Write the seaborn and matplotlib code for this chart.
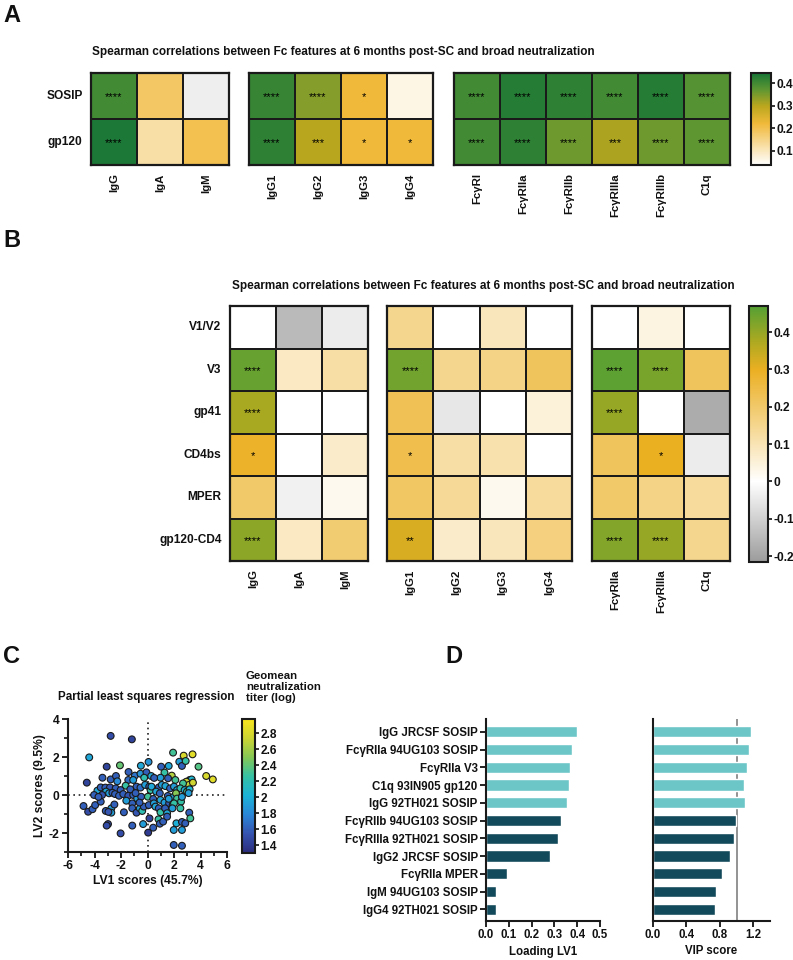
import numpy as np
import pandas as pd
import matplotlib
matplotlib.use('Agg')
import matplotlib.pyplot as plt
import seaborn as sns
from matplotlib.colors import LinearSegmentedColormap, Normalize
from matplotlib.cm import ScalarMappable
from matplotlib.ticker import MultipleLocator

# ---- panel A data (Spearman r, Fc feature vs broad neutralization) ----
a_rows = ['SOSIP', 'gp120']
a_iso = ['IgG', 'IgA', 'IgM']
a_sub = ['IgG1', 'IgG2', 'IgG3', 'IgG4']
a_fcr = ['FcγRI', 'FcγRIIa', 'FcγRIIb', 'FcγRIIIa', 'FcγRIIIb', 'C1q']
a_iso_r = [[0.40, 0.18, -0.02],
           [0.44, 0.12, 0.20]]
a_sub_r = [[0.41, 0.34, 0.22, 0.06],
           [0.42, 0.30, 0.22, 0.22]]
a_fcr_r = [[0.40, 0.43, 0.42, 0.40, 0.43, 0.38],
           [0.40, 0.42, 0.36, 0.31, 0.36, 0.37]]
a_iso_p = [['****', '', ''], ['****', '', '']]
a_sub_p = [['****', '****', '*', ''], ['****', '***', '*', '*']]
a_fcr_p = [['****'] * 6, ['****', '****', '****', '***', '****', '****']]

# ---- panel B data (epitope-specific) ----
b_rows = ['V1/V2', 'V3', 'gp41', 'CD4bs', 'MPER', 'gp120-CD4']
b_iso = ['IgG', 'IgA', 'IgM']
b_sub = ['IgG1', 'IgG2', 'IgG3', 'IgG4']
b_fcr = ['FcγRIIa', 'FcγRIIIa', 'C1q']
b_iso_r = [[0.00, -0.15, -0.04],
           [0.45, 0.08, 0.12],
           [0.38, 0.00, 0.00],
           [0.29, 0.00, 0.07],
           [0.20, -0.03, 0.02],
           [0.41, 0.08, 0.19]]
b_sub_r = [[0.15, 0.00, 0.09, 0.00],
           [0.44, 0.15, 0.16, 0.22],
           [0.23, -0.05, 0.00, 0.05],
           [0.24, 0.12, 0.11, 0.00],
           [0.21, 0.14, 0.02, 0.13],
           [0.32, 0.07, 0.09, 0.17]]
b_fcr_r = [[0.00, 0.04, 0.00],
           [0.46, 0.43, 0.22],
           [0.40, 0.00, -0.18],
           [0.22, 0.30, -0.04],
           [0.20, 0.16, 0.13],
           [0.42, 0.40, 0.15]]
b_iso_p = [['', '', ''], ['****', '', ''], ['****', '', ''],
           ['*', '', ''], ['', '', ''], ['****', '', '']]
b_sub_p = [['', '', '', ''], ['****', '', '', ''], ['', '', '', ''],
           ['*', '', '', ''], ['', '', '', ''], ['**', '', '', '']]
b_fcr_p = [['', '', ''], ['****', '****', ''], ['****', '', ''],
           ['', '*', ''], ['', '', ''], ['****', '****', '']]

# ---- panel C data (PLS scores, coloured by geomean titer) ----
lv1 = [-2.78, -1.18, -4.40, 1.93, 2.73, 3.40, 2.40, 2.60, 2.88, -3.08,
       -2.08, -0.50, 0.08, 1.03, 1.60, 3.85, -4.58, -3.40, -2.78, -2.38,
       -1.43, -0.95, -0.53, -0.08, -1.45, -1.08, -0.25, 0.28, 1.28, 1.83,
       2.10, 4.43, 4.93, 1.55, 0.98, 3.18, 3.33, 2.93, 3.13, 3.43,
       2.68, -2.28, -1.65, -3.78, -3.53, -3.18, -2.83, -2.40, -2.03, -3.13,
       -2.90, -2.65, -2.45, -4.03, -3.43, -2.15, -1.83, -1.45, -1.08, -0.83,
       -0.53, -0.18, 0.13, 0.23, 0.30, 0.85, 1.08, 1.35, 1.70, 2.00,
       2.23, 2.48, 2.80, 2.98, 3.18, 0.65, 0.93, 1.53, 1.98, 2.15,
       2.23, 2.53, -1.15, -0.78, -0.48, 0.03, 0.43, 0.98, 1.28, 1.63,
       1.90, 2.00, -4.83, -4.48, -4.15, -3.95, -3.53, -3.15, -2.73, -2.73,
       -2.95, -1.78, -1.15, -0.83, -0.58, -0.40, -0.28, 0.10, 0.48, 0.60,
       0.85, 0.98, 1.33, 1.48, 1.88, 2.48, 3.15, 3.23, -2.98, -3.08,
       -1.15, -0.33, 0.15, 0.43, 0.83, 0.93, 1.18, 1.48, 2.18, 2.60,
       2.85, -2.03, 0.05, 1.98, 2.60, 1.98, 2.60, -3.70, -2.50, -1.60,
       -1.30, -0.90, -0.60, 0.50, 1.60, 2.60, 3.10]
lv2 = [3.11, 2.93, 1.98, 2.23, 2.07, 2.14, 1.75, 1.53, 1.79, 1.49,
       1.56, 1.54, 1.74, 1.49, 1.53, 1.49, 0.65, 0.91, 0.82, 1.00,
       1.21, 1.02, 1.12, 1.19, 0.79, 0.79, 0.91, 1.00, 1.18, 1.02,
       0.79, 1.00, 0.82, 0.88, 0.91, 0.79, 0.82, 0.70, 0.53, 0.65,
       0.61, 0.72, 0.49, 0.23, 0.40, 0.39, 0.40, 0.35, 0.26, 0.18,
       0.09, 0.12, 0.05, 0.00, 0.00, -0.04, 0.05, -0.04, 0.00, 0.44,
       0.39, 0.53, 0.44, 0.26, 0.44, 0.40, 0.53, 0.47, 0.35, 0.44,
       0.26, 0.35, 0.26, 0.18, 0.30, 0.18, 0.09, -0.05, -0.09, 0.09,
       -0.19, -0.35, -0.44, -0.18, -0.09, -0.09, -0.21, -0.26, -0.40, -0.44,
       -0.53, -0.44, -0.58, -0.88, -0.75, -0.53, -0.35, -0.84, -0.70, -0.93,
       -0.89, -0.91, -0.70, -0.93, -0.70, -0.84, -0.61, -0.53, -0.44, -0.61,
       -0.70, -0.91, -0.70, -0.96, -0.70, -0.70, -0.93, -1.23, -1.53, -1.61,
       -1.61, -1.53, -1.23, -1.72, -1.28, -1.51, -1.40, -1.14, -1.49, -1.42,
       -1.49, -2.02, -1.98, -1.84, -1.84, -2.63, -2.67, -0.10, -0.50, -0.30,
       0.30, 0.10, -0.40, 0.90, -0.20, -0.10, 0.10]
titer = [1.50, 1.45, 1.95, 2.30, 2.80, 2.85, 1.90, 1.60, 2.25, 1.45,
         2.40, 1.95, 1.85, 1.60, 1.95, 2.35, 1.45, 1.60, 1.60, 1.60,
         1.60, 1.70, 1.85, 1.60, 1.65, 1.90, 2.20, 1.95, 2.25, 2.65,
         2.30, 2.80, 2.85, 1.60, 1.90, 2.00, 2.05, 2.75, 2.70, 2.75,
         2.30, 1.80, 2.25, 1.95, 1.60, 1.60, 1.55, 1.60, 1.60, 1.95,
         1.90, 1.60, 1.60, 1.60, 1.55, 1.60, 1.60, 1.55, 1.60, 1.60,
         1.65, 1.90, 1.60, 2.25, 1.95, 1.60, 1.90, 1.95, 1.60, 1.90,
         1.95, 2.20, 2.00, 2.30, 2.05, 1.95, 1.60, 1.60, 1.90, 2.50,
         2.30, 2.25, 1.60, 1.90, 1.60, 2.30, 1.60, 1.95, 1.90, 1.60,
         1.95, 2.25, 1.60, 1.50, 1.60, 1.60, 1.60, 1.60, 1.90, 1.90,
         1.55, 1.60, 1.60, 1.55, 1.90, 2.20, 1.60, 1.60, 1.90, 1.95,
         1.60, 2.25, 1.60, 1.95, 1.90, 2.25, 1.60, 2.30, 1.50, 1.50,
         1.60, 1.90, 1.45, 1.60, 2.25, 1.60, 1.60, 1.60, 2.00, 1.60,
         1.60, 1.50, 1.40, 1.90, 1.90, 1.60, 1.60, 1.60, 1.60, 1.90,
         1.60, 1.60, 1.60, 1.60, 1.90, 1.90, 1.90]

# ---- panel D data ----
d_features = ['IgG JRCSF SOSIP', 'FcγRIIa 94UG103 SOSIP', 'FcγRIIa V3',
              'C1q 93IN905 gp120', 'IgG 92TH021 SOSIP', 'FcγRIIb 94UG103 SOSIP',
              'FcγRIIIa 92TH021 SOSIP', 'IgG2 JRCSF SOSIP', 'FcγRIIa MPER',
              'IgM 94UG103 SOSIP', 'IgG4 92TH021 SOSIP']
d_loading = [0.398, 0.376, 0.368, 0.365, 0.354, 0.327, 0.317, 0.281, 0.091, 0.042, 0.042]
d_vip = [1.17, 1.15, 1.13, 1.09, 1.10, 0.99, 0.97, 0.92, 0.83, 0.75, 0.74]

sns.set_theme(style='white')
plt.rcParams['font.family'] = ['Liberation Sans', 'DejaVu Sans']
plt.rcParams['font.weight'] = 'bold'
plt.rcParams['axes.labelweight'] = 'bold'
plt.rcParams['axes.unicode_minus'] = False
plt.rcParams['text.color'] = '#111111'
plt.rcParams['axes.labelcolor'] = '#111111'
plt.rcParams['xtick.color'] = '#111111'
plt.rcParams['ytick.color'] = '#111111'

W, H = 793, 960
fig = plt.figure(figsize=(W / 100, H / 100), dpi=100)


def box(x0, y0, x1, y1):
    # axes from pixel corners (top-left origin)
    return fig.add_axes([x0 / W, 1 - y1 / H, (x1 - x0) / W, (y1 - y0) / H])


def block(ax, vals, rows, cols, stars, cmap, vmin, vmax, show_rows):
    df = pd.DataFrame(vals, index=rows, columns=cols)
    sns.heatmap(df, ax=ax, cmap=cmap, vmin=vmin, vmax=vmax, cbar=False,
                linewidths=1.1, linecolor='#1a1a1a', square=False)
    for i in range(len(rows)):
        for j in range(len(cols)):
            if stars[i][j]:
                ax.text(j + 0.5, i + 0.52, stars[i][j], ha='center', va='center',
                        fontsize=8, color='black', fontweight='normal')
    for s in ax.spines.values():
        s.set_visible(True)
        s.set_linewidth(1.6)
        s.set_color('#1a1a1a')
    ax.tick_params(length=0, pad=6)
    ax.set_xticklabels(cols, rotation=90, fontsize=8.2, fontweight='bold')
    if show_rows:
        ax.set_yticklabels(rows, rotation=0, fontsize=8.6, fontweight='bold')
    else:
        ax.set_yticks([])
    ax.set_xlabel('')
    ax.set_ylabel('')


def cbar(cax, cmap, vmin, vmax, ticks, labels=None):
    cb = fig.colorbar(ScalarMappable(Normalize(vmin, vmax), cmap), cax=cax)
    cb.set_ticks(ticks)
    if labels is not None:
        cb.set_ticklabels(labels)
    cb.outline.set_linewidth(1.5)
    cb.outline.set_edgecolor('#1a1a1a')
    cax.tick_params(labelsize=8.6, length=3, width=1.2, pad=1)
    for t in cax.get_yticklabels():
        t.set_fontweight('bold')


title = 'Spearman correlations between Fc features at 6 months post-SC and broad neutralization'

# ---------------- A ----------------
cmap_a = LinearSegmentedColormap.from_list(
    'a', [(0, '#ffffff'), (0.45, '#f0b93a'), (0.64, '#bca71e'), (0.82, '#5e9632'), (1, '#177636')])
cmap_a.set_under('#eeeeee')
va0, va1 = 0.036, 0.445
fig.text(3 / W, 1 - 4 / H, 'A', fontsize=17, fontweight='bold', va='top')
fig.text(343 / W, 1 - 52 / H, title, fontsize=8.5, fontweight='bold', ha='center', va='center')
block(box(91, 73, 229, 165), a_iso_r, a_rows, a_iso, a_iso_p, cmap_a, va0, va1, True)
block(box(249, 73, 433, 165), a_sub_r, a_rows, a_sub, a_sub_p, cmap_a, va0, va1, False)
block(box(454, 73, 730, 165), a_fcr_r, a_rows, a_fcr, a_fcr_p, cmap_a, va0, va1, False)
cbar(box(751, 73, 771, 165), cmap_a, va0, va1, [0.1, 0.2, 0.3, 0.4])

# ---------------- B ----------------
vb0, vb1 = -0.216, 0.47
z = (0 - vb0) / (vb1 - vb0)
cmap_b = LinearSegmentedColormap.from_list(
    'b', [(0, '#9c9c9c'), (z, '#ffffff'), (z + (0.15 / (vb1 - vb0)), '#f5d68e'),
          (z + (0.30 / (vb1 - vb0)), '#ebaf22'), (z + (0.38 / (vb1 - vb0)), '#a9a921'), (1, '#55a034')])
fig.text(3 / W, 1 - 229 / H, 'B', fontsize=17, fontweight='bold', va='top')
fig.text(483 / W, 1 - 286 / H, title, fontsize=8.5, fontweight='bold', ha='center', va='center')
block(box(230, 306, 368, 561), b_iso_r, b_rows, b_iso, b_iso_p, cmap_b, vb0, vb1, True)
block(box(387, 306, 572, 561), b_sub_r, b_rows, b_sub, b_sub_p, cmap_b, vb0, vb1, False)
block(box(592, 306, 730, 561), b_fcr_r, b_rows, b_fcr, b_fcr_p, cmap_b, vb0, vb1, False)
cbar(box(749, 306, 768, 562), cmap_b, vb0, vb1, [-0.2, -0.1, 0, 0.1, 0.2, 0.3, 0.4],
     ['-0.2', '-0.1', '0', '0.1', '0.2', '0.3', '0.4'])

# ---------------- C ----------------
cmap_c = LinearSegmentedColormap.from_list(
    'c', ['#2b2c7c', '#3553b0', '#2a87d8', '#1cb3d6', '#35c1a5', '#85c755', '#cbd433', '#f8e61e'])
norm_c = Normalize(1.30, 2.975)
fig.text(3 / W, 1 - 645 / H, 'C', fontsize=17, fontweight='bold', va='top')
fig.text(146 / W, 1 - 697 / H, 'Partial least squares regression', fontsize=8.4,
         fontweight='bold', ha='center', va='center')
ax_c = box(68, 719, 227, 852)
sns.scatterplot(x=lv1, y=lv2, hue=titer, palette=cmap_c, hue_norm=norm_c, s=24,
                edgecolor='#1a1a1a', linewidth=0.8, legend=False, ax=ax_c, zorder=3)
ax_c.axhline(0, ls=(0, (1, 2.2)), color='#222222', lw=1.2, zorder=1)
ax_c.axvline(0, ls=(0, (1, 2.2)), color='#222222', lw=1.2, zorder=1)
ax_c.set_xlim(-6, 6)
ax_c.set_ylim(-3, 4)
ax_c.set_xticks([-6, -4, -2, 0, 2, 4, 6])
ax_c.set_yticks([-2, 0, 2, 4])
ax_c.xaxis.set_minor_locator(MultipleLocator(1))
ax_c.yaxis.set_minor_locator(MultipleLocator(1))
ax_c.tick_params(which='major', length=4, width=1.3, labelsize=8.7, pad=2, bottom=True, left=True)
ax_c.tick_params(which='minor', length=3, width=1.2, bottom=True, left=True)
for t in ax_c.get_xticklabels() + ax_c.get_yticklabels():
    t.set_fontweight('bold')
for side in ['top', 'right']:
    ax_c.spines[side].set_visible(False)
for side in ['left', 'bottom']:
    ax_c.spines[side].set_linewidth(1.5)
    ax_c.spines[side].set_color('#1a1a1a')
ax_c.set_xlabel('LV1 scores (45.7%)', fontsize=8.7, labelpad=2)
ax_c.set_ylabel('LV2 scores (9.5%)', fontsize=8.7, labelpad=2)
ax_c.set_facecolor('white')
fig.text(246 / W, 1 - 671 / H, 'Geomean\nneutralization\ntiter (log)', fontsize=8.2,
         fontweight='bold', ha='left', va='top', linespacing=1.15)
cbar(box(242, 719, 255, 853), cmap_c, 1.30, 2.975,
     [1.4, 1.6, 1.8, 2.0, 2.2, 2.4, 2.6, 2.8],
     ['1.4', '1.6', '1.8', '2', '2.2', '2.4', '2.6', '2.8'])

# ---------------- D ----------------
fig.text(445 / W, 1 - 645 / H, 'D', fontsize=17, fontweight='bold', va='top')
d_df = pd.DataFrame({'feature': d_features, 'loading': d_loading, 'vip': d_vip,
                     'group': ['hi'] * 5 + ['lo'] * 6})
pal = {'hi': '#6cc5c7', 'lo': '#134a5b'}

ax_l = box(486, 719, 600, 921)
sns.barplot(data=d_df, x='loading', y='feature', hue='group', palette=pal, dodge=False,
            width=0.64, saturation=1, legend=False, ax=ax_l)
ax_l.set_xlim(0, 0.5)
ax_l.set_ylim(10.66, -0.72)
ax_l.set_xticks([0, 0.1, 0.2, 0.3, 0.4, 0.5])
ax_l.set_xticklabels(['0.0', '0.1', '0.2', '0.3', '0.4', '0.5'])
ax_l.set_xlabel('Loading LV1', fontsize=8.3, labelpad=3)
ax_l.set_ylabel('')

ax_v = box(653, 719, 770, 921)
sns.barplot(data=d_df, x='vip', y='feature', hue='group', palette=pal, dodge=False,
            width=0.64, saturation=1, legend=False, ax=ax_v)
ax_v.axvline(1.0, color='#8a8a8a', lw=1.3, zorder=0)
ax_v.set_xlim(0, 1.4)
ax_v.set_ylim(10.66, -0.72)
ax_v.set_xticks([0, 0.4, 0.8, 1.2])
ax_v.set_xticklabels(['0.0', '0.4', '0.8', '1.2'])
ax_v.set_yticks([])
ax_v.set_xlabel('VIP score', fontsize=8.3, labelpad=3)
ax_v.set_ylabel('')

for ax in [ax_l, ax_v]:
    for side in ['top', 'right']:
        ax.spines[side].set_visible(False)
    for side in ['left', 'bottom']:
        ax.spines[side].set_linewidth(1.5)
        ax.spines[side].set_color('#1a1a1a')
    ax.tick_params(axis='x', length=4, width=1.3, labelsize=8.3, pad=2, bottom=True)
    ax.tick_params(axis='y', length=4, width=1.3, labelsize=8.3, pad=2, left=True)
    for t in ax.get_xticklabels() + ax.get_yticklabels():
        t.set_fontweight('bold')
ax_v.tick_params(axis='y', left=False)

fig.savefig('out.png', dpi=100, facecolor='white')
